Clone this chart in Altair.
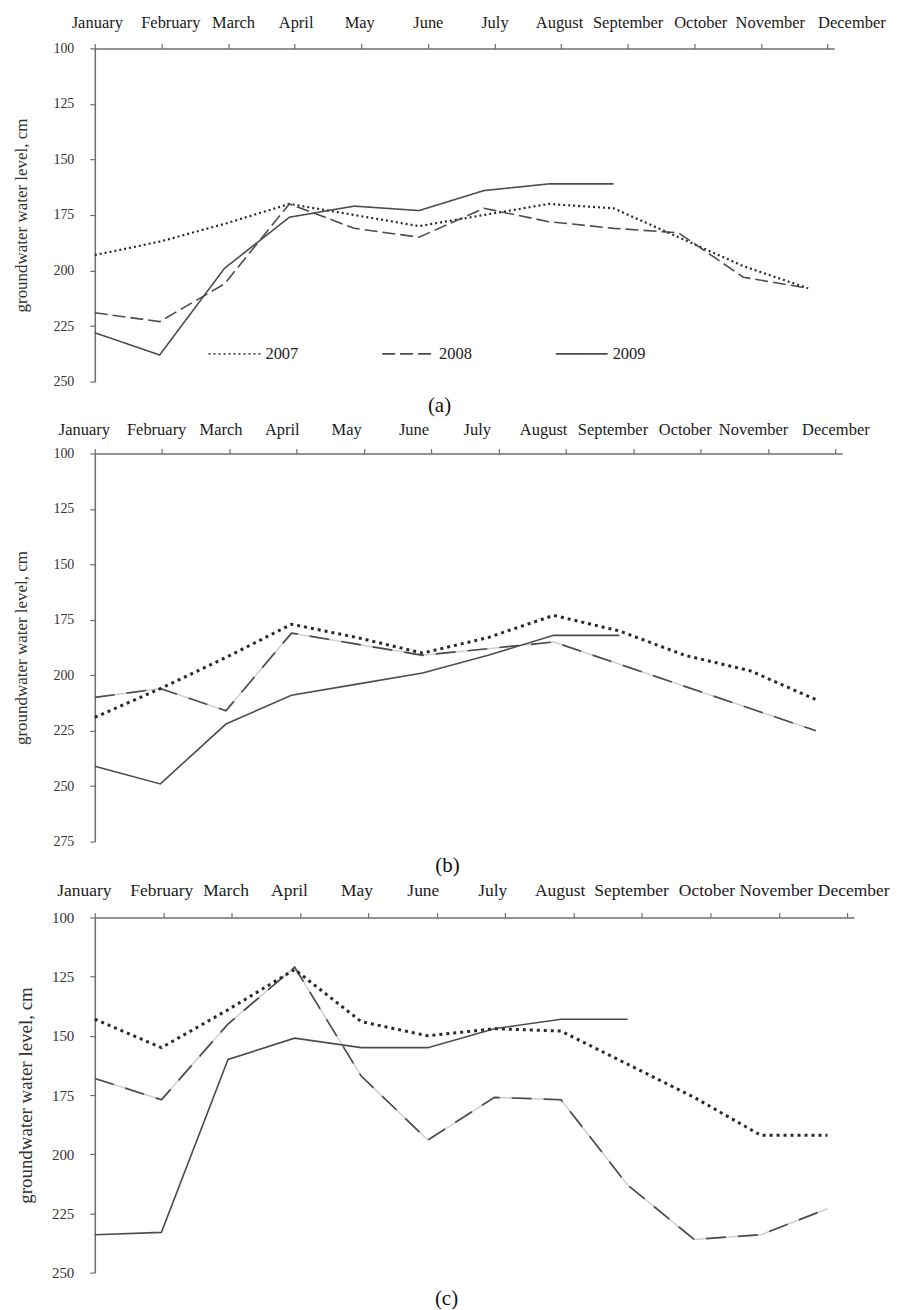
import altair as alt
import pandas as pd

MONTHS = ["January", "February", "March", "April", "May", "June", "July",
          "August", "September", "October", "November", "December"]
YEARS = ["2007", "2008", "2009"]

# panel (a)
A_2007 = [193, 187, 179, 170, 175, 180, 175, 170, 172, 185, 198, 208]
A_2008 = [219, 223, 206, 170, 181, 185, 172, 178, 181, 183, 203, 208]
A_2009 = [228, 238, 199, 176, 171, 173, 164, 161, 161]
# panel (b)
B_2007 = [219, 206, 192, 177, 183, 190, 183, 173, 180, 191, 198, 211]
B_2008 = [210, 206, 216, 181, 186, 191, 188, 185, 195, 205, 215, 225]
B_2009 = [241, 249, 222, 209, 204, 199, 191, 182, 182]
# panel (c)
C_2007 = [143, 155, 139, 122, 144, 150, 147, 148, 162, 176, 192, 192]
C_2008 = [168, 177, 145, 121, 167, 194, 176, 177, 213, 236, 234, 223]
C_2009 = [234, 233, 160, 151, 155, 155, 147, 143, 143]

# month label nudges (px) relative to their tick, as typed in the original
NUDGE_A = [2, 9, 5, 1, -2, 0, 0, -2, 0, 6, 9, 24]
NUDGE_B = [-11, -6, -9, -15, -18, -18, -22, -23, -21, -16, -15, 0]
NUDGE_C = [-11, -2, -6, -11, -12, -14, -13, -14, -11, -4, -3, 6]

FONT = "Liberation Serif"
TICK_STEP = 1.027
X_MAX = 11.4
LINE = "#4d4d4d"
DOT = "#2a2a2a"
AXIS = "#6e6e6e"
YTITLE = "groundwater water level, cm"


def frame(s07, s08, s09):
    rows = []
    for yr, vals in zip(YEARS, (s07, s08, s09)):
        for i, v in enumerate(vals):
            rows.append({"m": i, "year": yr, "level": v})
    return pd.DataFrame(rows)


month_expr = "[" + ",".join("'%s'" % m for m in MONTHS) + "][round(datum.value / %s)]" % TICK_STEP


def enc_x(fs, pad, nudge):
    offset = {
        "condition": [
            {"test": "round(datum.value / %s) == %d" % (TICK_STEP, k), "value": n}
            for k, n in enumerate(nudge) if n != 0
        ],
        "value": 0,
    }
    return alt.X(
        "m:Q",
        scale=alt.Scale(domain=[0, X_MAX], nice=False, zero=False),
        axis=alt.Axis(
            orient="top", values=[round(i * TICK_STEP, 4) for i in range(12)],
            labelExpr=month_expr, title=None, grid=False,
            domainColor=AXIS, domainWidth=1.5, tickColor=AXIS, tickWidth=1.2,
            tickSize=5, labelPadding=pad, labelFont=FONT, labelFontSize=fs,
            labelColor="#1a1a1a", labelOverlap=False, labelAlign="center",
            labelFlush=False, labelOffset=offset,
        ),
    )


def enc_y(ymax, fs_lab, fs_title, tpad):
    return alt.Y(
        "level:Q",
        scale=alt.Scale(domain=[100, ymax], reverse=True, nice=False, zero=False),
        axis=alt.Axis(
            values=list(range(100, ymax + 1, 25)), title=YTITLE, grid=False,
            domainColor=AXIS, domainWidth=1.5, tickColor=AXIS, tickWidth=1.2,
            tickSize=5, labelPadding=16, labelFont=FONT, labelFontSize=fs_lab,
            labelColor="#333333", titleFont=FONT, titleFontSize=fs_title,
            titleFontWeight="normal", titleColor="#333333", titlePadding=tpad,
            labelOverlap=False, labelFlush=False,
        ),
    )


def caption(text, dx, offset):
    return alt.TitleParams(text, orient="bottom", anchor="middle", fontSize=21,
                           font=FONT, fontWeight="normal", color="#111111",
                           offset=offset, dx=dx)


# ---------- panel (a) ----------
dfa = frame(A_2007, A_2008, A_2009)
xa = enc_x(16.5, 13, NUDGE_A)
ya = enc_y(250, 14, 17, 22)
dash_a = alt.StrokeDash(
    "year:N",
    scale=alt.Scale(domain=YEARS, range=[[2, 3], [13, 5], [1, 0]]),
    legend=alt.Legend(
        orient="none", legendX=113, legendY=279, direction="horizontal",
        title=None, symbolType="stroke", symbolSize=2700, symbolStrokeWidth=1.8,
        symbolStrokeColor=LINE, labelFont=FONT, labelFontSize=16.5,
        labelColor="#222222", columnPadding=80, labelOffset=4, padding=0,
    ),
)
ba = alt.Chart(dfa)
pa = alt.layer(
    ba.transform_filter("datum.year == '2007'").mark_line(color=DOT, strokeWidth=2.2).encode(x=xa, y=ya, strokeDash=dash_a),
    ba.transform_filter("datum.year == '2008'").mark_line(color=LINE, strokeWidth=1.6).encode(x=xa, y=ya, strokeDash=dash_a),
    ba.transform_filter("datum.year == '2009'").mark_line(color=LINE, strokeWidth=1.6).encode(x=xa, y=ya, strokeDash=dash_a),
).properties(width=741, height=334, title=caption("(a)", -25, 6))


def panel_bc(df, width, height, ymax, fs_month, pad, nudge, fs_lab, fs_title, tpad, cap, dx, off):
    x = enc_x(fs_month, pad, nudge)
    y = enc_y(ymax, fs_lab, fs_title, tpad)
    b = alt.Chart(df)
    return alt.layer(
        b.transform_filter("datum.year == '2008'").mark_line(color="#cfcfcf", strokeWidth=1.5).encode(x=x, y=y),
        b.transform_filter("datum.year == '2008'").mark_line(color=LINE, strokeWidth=1.7, strokeDash=[20, 12]).encode(x=x, y=y),
        b.transform_filter("datum.year == '2009'").mark_line(color=LINE, strokeWidth=1.6).encode(x=x, y=y),
        b.transform_filter("datum.year == '2007'").mark_line(color=DOT, strokeWidth=3, strokeDash=[3, 4]).encode(x=x, y=y),
    ).properties(width=width, height=height, title=caption(cap, dx, off))


pb = panel_bc(frame(B_2007, B_2008, B_2009), 749, 389, 275, 16.5, 11, NUDGE_B, 14, 17, 22, "(b)", -21, 6)
pc = panel_bc(frame(C_2007, C_2008, C_2009), 761, 356, 250, 17.5, 13, NUDGE_C, 15, 19, 16, "(c)", -28, 7)

chart = alt.vconcat(pa, pb, pc, spacing=6).configure_view(stroke=None)

chart.save("out.html", embed_options={"renderer": "svg", "actions": False})
